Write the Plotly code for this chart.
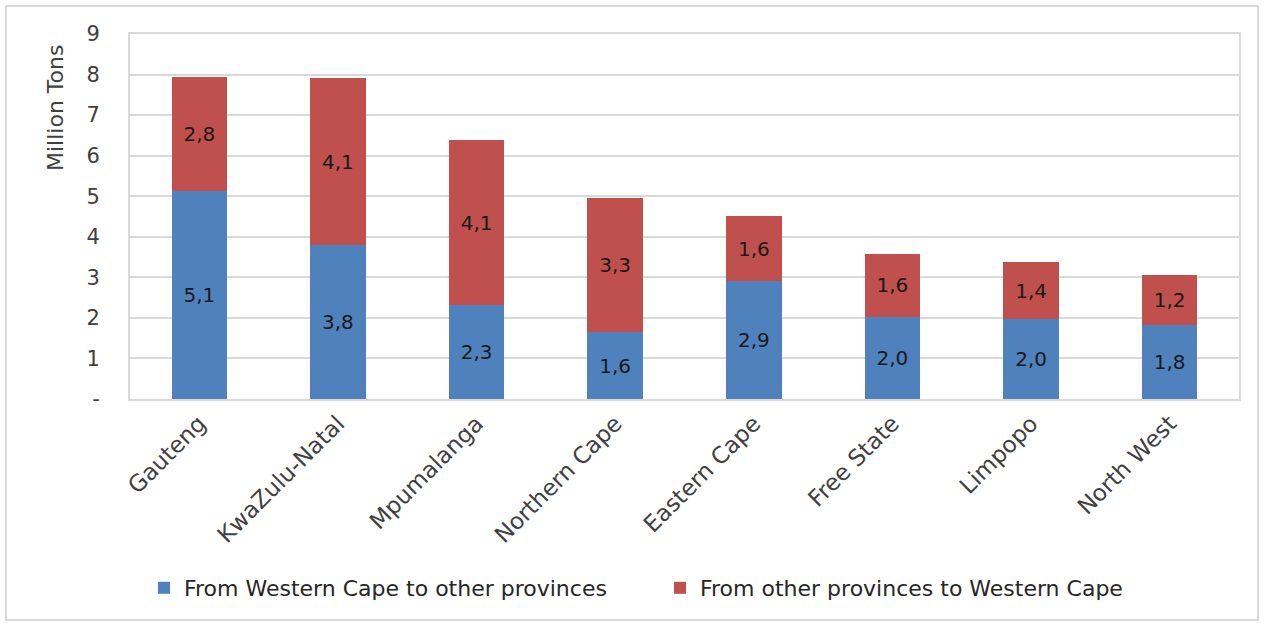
import plotly.graph_objects as go

provinces = ["Gauteng", "KwaZulu-Natal", "Mpumalanga", "Northern Cape",
             "Eastern Cape", "Free State", "Limpopo", "North West"]
from_wc = [5.14, 3.80, 2.32, 1.65, 2.91, 2.02, 1.97, 1.82]
to_wc = [2.80, 4.11, 4.06, 3.31, 1.60, 1.56, 1.41, 1.24]
y_ticks = [0, 1, 2, 3, 4, 5, 6, 7, 8, 9]
y_tick_labels = ["-", "1", "2", "3", "4", "5", "6", "7", "8", "9"]

FONT = "DejaVu Sans"
W, H = 1267, 623
L, R, T, B = 130, 28, 34, 224
pw, ph = W - L - R, H - T - B

fig = go.Figure()
fig.add_trace(go.Bar(
    x=provinces, y=from_wc, name="From Western Cape to other provinces",
    marker=dict(color="#4F81BD", line=dict(width=0)),
    texttemplate="%{y:.1f}", textposition="inside", insidetextanchor="middle",
    textfont=dict(size=20, color="#1a1a1a", family=FONT),
))
fig.add_trace(go.Bar(
    x=provinces, y=to_wc, name="From other provinces to Western Cape",
    marker=dict(color="#C0504D", line=dict(width=0)),
    texttemplate="%{y:.1f}", textposition="inside", insidetextanchor="middle",
    textfont=dict(size=20, color="#1a1a1a", family=FONT),
))

def px_x(p):
    return (p - L) / pw

def px_y(p):
    return (H - B - p) / ph

fig.update_layout(
    width=W, height=H,
    barmode="stack", bargap=0.6,
    separators=", ",
    paper_bgcolor="white", plot_bgcolor="white",
    margin=dict(l=L, r=R, t=T, b=B),
    font=dict(family=FONT, size=20, color="#404040"),
    showlegend=True,
    legend=dict(orientation="h", xref="container", yref="container",
                x=660 / W, xanchor="center", y=1 - 588 / H, yanchor="middle",
                bgcolor="rgba(0,0,0,0)",
                font=dict(size=22, color="#262626", family=FONT),
                itemwidth=30, entrywidth=471, traceorder="normal"),
    xaxis=dict(tickangle=-45, tickfont=dict(size=23, color="#404040", family=FONT),
               showline=True, linecolor="#d9d9d9", linewidth=2, mirror=True,
               ticks="", showgrid=False),
    yaxis=dict(range=[0, 9], tickvals=y_ticks, ticktext=y_tick_labels,
               tickfont=dict(size=21, color="#404040", family=FONT),
               showgrid=True, gridcolor="#d9d9d9", gridwidth=2,
               showline=True, linecolor="#d9d9d9", linewidth=2, mirror=True,
               zeroline=False, ticks="", ticklabelstandoff=24),
    annotations=[dict(text="Million Tons", textangle=-90, showarrow=False,
                      xref="paper", yref="paper", x=px_x(55), y=px_y(108),
                      xanchor="center", yanchor="middle",
                      font=dict(size=22, color="#404040", family=FONT))],
    shapes=[dict(type="rect", xref="paper", yref="paper",
                 x0=px_x(6), x1=px_x(1258), y0=px_y(620), y1=px_y(6),
                 line=dict(color="#d9d9d9", width=2), fillcolor="rgba(0,0,0,0)",
                 layer="below")],
)

fig.write_html("out.html")
